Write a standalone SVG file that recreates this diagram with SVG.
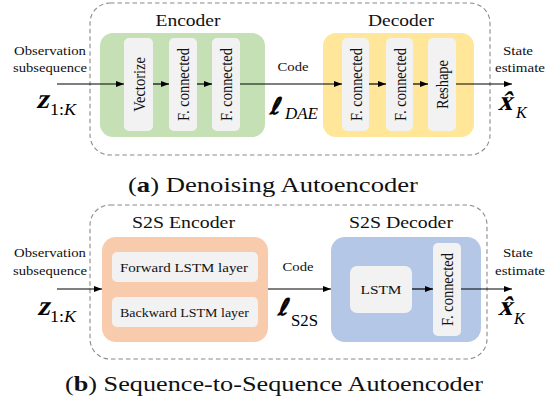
<svg xmlns="http://www.w3.org/2000/svg" width="547" height="410" viewBox="0 0 547 410">
  <style>
    .frame { fill: none; stroke: #8a8a8a; stroke-width: 1.1; stroke-dasharray: 4.5 3; }
    .inner { fill: #f2f2f2; }
    .lbl { font-family: "Liberation Serif", "Times New Roman", serif; fill: #111; }
    .title { font-size: 16.5px; text-anchor: middle; }
    .small { font-size: 12.5px; text-anchor: middle; }
    .vert { font-size: 14.5px; text-anchor: middle; }
    .cap { font-size: 21px; }
    .math { font-family: "Liberation Serif", "Times New Roman", serif; fill: #000; }
    .bi { font-weight: bold; font-size: 28px; }
    .sub { font-size: 16px; }
    .ell { font-family: "DejaVu Serif", "DejaVu Sans", serif; font-size: 23px; fill: #000; stroke: #000; stroke-width: 1; }
    .conn line { stroke: #000; stroke-width: 1.2; marker-end: url(#arr); }
  </style>
  <defs>
    <marker id="arr" markerWidth="8" markerHeight="6" refX="8" refY="3" orient="auto" markerUnits="userSpaceOnUse">
      <path d="M0,0 L8,3 L0,6 z" fill="#000"/>
    </marker>
  </defs>

  <!-- (a) Denoising autoencoder -->
  <rect class="frame" x="90" y="3" width="400" height="152" rx="20"/>

  <g id="encoder">
    <text class="lbl title" x="188" y="26" textLength="65" lengthAdjust="spacingAndGlyphs">Encoder</text>
    <rect x="100" y="33" width="165" height="104" rx="13" fill="#c5e0b4"/>
  </g>
  <g id="vectorize">
    <rect class="inner" x="124" y="38" width="29" height="93" rx="5"/>
    <text class="lbl vert" transform="translate(144.5,84.5) rotate(-90) scale(1,1.2)">Vectorize</text>
  </g>
  <g id="enc-fc1">
    <rect class="inner" x="169" y="38" width="28" height="93" rx="5"/>
    <text class="lbl vert" transform="translate(189,84.5) rotate(-90) scale(1,1.2)">F. connected</text>
  </g>
  <g id="enc-fc2">
    <rect class="inner" x="212" y="38" width="28" height="93" rx="5"/>
    <text class="lbl vert" transform="translate(232,84.5) rotate(-90) scale(1,1.2)">F. connected</text>
  </g>

  <g id="decoder">
    <text class="lbl title" x="401" y="26" textLength="66" lengthAdjust="spacingAndGlyphs">Decoder</text>
    <rect x="323" y="33" width="151" height="104" rx="13" fill="#ffe699"/>
  </g>
  <g id="dec-fc1">
    <rect class="inner" x="342" y="38" width="27" height="93" rx="5"/>
    <text class="lbl vert" transform="translate(361.5,84.5) rotate(-90) scale(1,1.2)">F. connected</text>
  </g>
  <g id="dec-fc2">
    <rect class="inner" x="386" y="38" width="27" height="93" rx="5"/>
    <text class="lbl vert" transform="translate(405.5,84.5) rotate(-90) scale(1,1.2)">F. connected</text>
  </g>
  <g id="reshape">
    <rect class="inner" x="428" y="38" width="28" height="93" rx="5"/>
    <text class="lbl vert" transform="translate(448,84.5) rotate(-90) scale(1,1.2)">Reshape</text>
  </g>

  <g id="input-a">
    <text class="lbl small" x="50" y="55" textLength="72" lengthAdjust="spacingAndGlyphs">Observation</text>
    <text class="lbl small" x="50" y="72" textLength="74" lengthAdjust="spacingAndGlyphs">subsequence</text>
    <text class="math bi" transform="translate(36,108) skewX(-14)">z</text>
    <text class="math sub" x="50" y="115" textLength="26" lengthAdjust="spacingAndGlyphs">1:<tspan font-style="italic">K</tspan></text>
  </g>
  <g id="code-a">
    <text class="lbl small" x="293" y="71" textLength="31" lengthAdjust="spacingAndGlyphs">Code</text>
    <text class="ell" transform="translate(270,114) skewX(-12)">ℓ</text>
    <text class="math sub" x="285" y="119" font-style="italic" textLength="33" lengthAdjust="spacingAndGlyphs">DAE</text>
  </g>
  <g id="output-a">
    <text class="lbl small" x="518" y="55" textLength="30" lengthAdjust="spacingAndGlyphs">State</text>
    <text class="lbl small" x="520" y="72" textLength="50" lengthAdjust="spacingAndGlyphs">estimate</text>
    <text class="math bi" transform="translate(498,110) skewX(-14)">x̂</text>
    <text class="math sub" x="516" y="118" font-style="italic">K</text>
  </g>

  <g class="conn" id="connectors-a">
    <line x1="57" y1="84" x2="124" y2="84"/>
    <line x1="153" y1="84" x2="169" y2="84"/>
    <line x1="197" y1="84" x2="212" y2="84"/>
    <line x1="240" y1="84" x2="342" y2="84"/>
    <line x1="369" y1="84" x2="386" y2="84"/>
    <line x1="413" y1="84" x2="428" y2="84"/>
    <line x1="456" y1="84" x2="512" y2="84"/>
  </g>

  <text class="lbl cap" x="128" y="192" textLength="290" lengthAdjust="spacingAndGlyphs">(<tspan font-weight="bold">a</tspan>) Denoising Autoencoder</text>

  <!-- (b) Sequence-to-sequence autoencoder -->
  <rect class="frame" x="90" y="205" width="397" height="154" rx="20"/>

  <g id="s2s-encoder">
    <text class="lbl title" x="183.5" y="228" textLength="103" lengthAdjust="spacingAndGlyphs">S2S Encoder</text>
    <rect x="102" y="237" width="166" height="105" rx="14" fill="#f8cbad"/>
  </g>
  <g id="forward-lstm">
    <rect class="inner" x="112" y="252" width="146" height="30" rx="5"/>
    <text class="lbl small" x="184" y="272" font-size="13" textLength="128" lengthAdjust="spacingAndGlyphs">Forward LSTM layer</text>
  </g>
  <g id="backward-lstm">
    <rect class="inner" x="112" y="297" width="146" height="30" rx="5"/>
    <text class="lbl small" x="184.5" y="317" font-size="13" textLength="129" lengthAdjust="spacingAndGlyphs">Backward LSTM layer</text>
  </g>

  <g id="s2s-decoder">
    <text class="lbl title" x="401" y="228" textLength="104" lengthAdjust="spacingAndGlyphs">S2S Decoder</text>
    <rect x="331" y="237" width="150" height="105" rx="14" fill="#b4c7e7"/>
  </g>
  <g id="lstm">
    <rect class="inner" x="350" y="266" width="62" height="47" rx="7"/>
    <text class="lbl small" x="381" y="294" font-size="13.5" textLength="41" lengthAdjust="spacingAndGlyphs">LSTM</text>
  </g>
  <g id="s2s-fc">
    <rect class="inner" x="433" y="243" width="28" height="93" rx="5"/>
    <text class="lbl vert" transform="translate(453,289.5) rotate(-90) scale(1,1.2)">F. connected</text>
  </g>

  <g id="input-b">
    <text class="lbl small" x="50" y="257" textLength="72" lengthAdjust="spacingAndGlyphs">Observation</text>
    <text class="lbl small" x="50" y="275" textLength="74" lengthAdjust="spacingAndGlyphs">subsequence</text>
    <text class="math bi" transform="translate(37,315) skewX(-14)">z</text>
    <text class="math sub" x="50" y="322" textLength="26" lengthAdjust="spacingAndGlyphs">1:<tspan font-style="italic">K</tspan></text>
  </g>
  <g id="code-b">
    <text class="lbl small" x="298" y="271" textLength="31" lengthAdjust="spacingAndGlyphs">Code</text>
    <text class="ell" transform="translate(278,315) skewX(-12)">ℓ</text>
    <text class="math sub" x="291" y="326" textLength="27" lengthAdjust="spacingAndGlyphs">S2S</text>
  </g>
  <g id="output-b">
    <text class="lbl small" x="518" y="257" textLength="30" lengthAdjust="spacingAndGlyphs">State</text>
    <text class="lbl small" x="520" y="275" textLength="50" lengthAdjust="spacingAndGlyphs">estimate</text>
    <text class="math bi" transform="translate(498,315) skewX(-14)">x̂</text>
    <text class="math sub" x="514" y="324" font-style="italic">K</text>
  </g>

  <g class="conn" id="connectors-b">
    <line x1="57" y1="289" x2="102" y2="289"/>
    <line x1="268" y1="289" x2="331" y2="289"/>
    <line x1="412" y1="289" x2="433" y2="289"/>
    <line x1="461" y1="289" x2="512" y2="289"/>
  </g>

  <text class="lbl cap" x="65" y="391" textLength="418" lengthAdjust="spacingAndGlyphs">(<tspan font-weight="bold">b</tspan>) Sequence-to-Sequence Autoencoder</text>
</svg>
